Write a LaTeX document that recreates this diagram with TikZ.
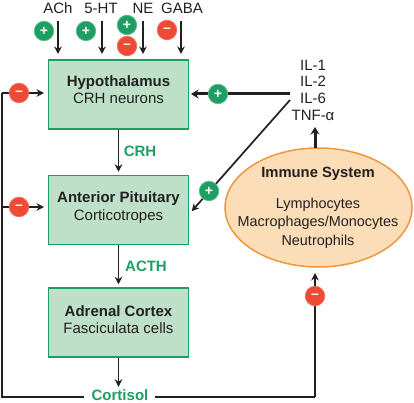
\documentclass[tikz,border=0pt]{standalone}
\usepackage{fontspec}
\setmainfont{Liberation Sans}
\usetikzlibrary{arrows.meta, positioning, shapes.geometric}

\definecolor{boxgreen}{HTML}{BEE0C9}
\definecolor{linegreen}{HTML}{1E9E63}
\definecolor{ovalfill}{HTML}{FBDDB8}
\definecolor{ovalline}{HTML}{F0963C}
\definecolor{signred}{HTML}{EE4A36}
\definecolor{inkdark}{HTML}{231F20}

\begin{document}
\begin{tikzpicture}[
            x=1pt, y=-1pt,
            >=Stealth,
            every node/.style={text=inkdark, font=\fontsize{15}{17.5}\selectfont},
            organ/.style={rectangle, draw=linegreen, fill=boxgreen, line width=1.5pt, minimum width=140pt, minimum height=69pt, align=center, text depth=0pt},
            link/.style={draw=inkdark, line width=1.7pt, shorten >=1pt, ->, >={Stealth[length=7.5pt,width=7.5pt]}},
            heavy/.style={draw=inkdark, line width=3pt, ->, >={Stealth[length=7.5pt,width=9pt]}},
            plain/.style={draw=inkdark, line width=1.7pt},
            plus/.style={circle, fill=linegreen, draw=linegreen!70!white, line width=0.8pt, minimum size=19.5pt, inner sep=0pt, text=white, font=\bfseries\fontsize{14}{14}\selectfont},
            minus/.style={circle, fill=signred, draw=signred!80!white, line width=0.8pt, minimum size=19.5pt, inner sep=0pt, text=white, font=\bfseries\fontsize{14}{14}\selectfont},
            hormone/.style={text=linegreen, inner sep=2pt, font=\bfseries\fontsize{15}{17.5}\selectfont}]

        \useasboundingbox (0,0) rectangle (414,403);

        % boxes
        \node[organ] (Hyp) at (118.5,94.5) {\textbf{Hypothalamus}\\CRH neurons\\[-7.5pt]};
        \node[organ] (Ant) at (118.5,210) {\textbf{Anterior Pituitary}\\Corticotropes\\[-9.5pt]};
        \node[organ] (Adr) at (118.5,322.5) {\textbf{Adrenal Cortex}\\Fasciculata cells\\[-11.5pt]};
        \node[ellipse, draw=ovalline, fill=ovalfill, line width=1.5pt, minimum width=187pt, minimum height=119pt, inner sep=0pt] (Imm) at (318.5,207.5) {};
        \node[align=center, font=\fontsize{14.4}{18.5}\selectfont] (ImmText) at (318,207.5) {{\fontsize{14.8}{18.5}\selectfont\textbf{Immune System}}\\[12.5pt]Lymphocytes\\Macrophages/Monocytes\\Neutrophils};

        % inputs on top
        \node (ACh) at (58,8) {ACh};
        \node (HT) at (101,8) {5-HT};
        \node (NE) at (143,8) {NE};
        \node (GABA) at (182,8) {GABA};
        \coordinate (AChS) at (58,21);
        \coordinate (HTS) at (102,21);
        \coordinate (NES) at (143,21);
        \coordinate (GABAS) at (181,21);
        \coordinate (AChE) at (58,55);
        \coordinate (HTE) at (102,55);
        \coordinate (NEE) at (143,55);
        \coordinate (GABAE) at (181,55);
        \draw[link] (AChS) -- (AChE);
        \draw[link] (HTS) -- (HTE);
        \draw[link] (NES) -- (NEE);
        \draw[link] (GABAS) -- (GABAE);

        % axis
        \node[hormone] (CRH) at (140,151) {CRH};
        \node[hormone] (ACTH) at (146,266) {ACTH};
        \node[hormone] (Cort) at (120,395.5) {Cortisol};
        \draw[link, shorten >=3pt] (Hyp) -- (Ant);
        \draw[link, shorten >=3pt] (Ant) -- (Adr);
        \draw[link] (Adr) -- (Adr |- Cort.north);

        % cytokines
        \node[align=center, font=\fontsize{15}{16.7}\selectfont] (IL) at (313,90) {IL-1\\IL-2\\IL-6\\TNF-α};
        \coordinate (ILa) at (290,94);
        \coordinate (ILb) at (290,100);
        \coordinate (AntE) at (191,212);
        \coordinate (ImmTop) at (315,148);
        \coordinate (ILe) at (315,127);
        \coordinate (HypE) at (191,94);
        \draw[heavy] (ILa) -- (HypE);
        \draw[link] (ILb) -- (AntE);
        \draw[heavy] (ImmTop) -- (ILe);

        % feedback lines
        \coordinate (FbA) at (2,93);
        \coordinate (FbB) at (2,207);
        \coordinate (FbC) at (2,397);
        \coordinate (HypW) at (45,93);
        \coordinate (AntW) at (45,207);
        \coordinate (ImmB) at (315,272);
        \coordinate (CornR) at (315,397);
        \coordinate (CortL) at (84,397);
        \coordinate (CortR) at (155,397);
        \draw[plain] (CortL) -- (FbC) -- (FbA);
        \draw[link] (FbA) -- (HypW);
        \draw[link] (FbB) -- (AntW);
        \draw[plain] (CortR) -- (CornR);
        \draw[link] (CornR) -- (ImmB);

        % signs
        \node[plus] (pA) at (44,31) {+};
        \node[plus] (pB) at (86,31) {+};
        \node[plus] (pC) at (127,25) {+};
        \node[minus] (mC) at (127,46) {–};
        \node[minus] (mD) at (167,30) {–};
        \node[minus] (mHyp) at (19,93) {–};
        \node[minus] (mAnt) at (19,207) {–};
        \node[plus] (pHyp) at (218,94) {+};
        \node[plus] (pAnt) at (209,191) {+};
        \node[minus] (mImm) at (315,296) {–};

    \end{tikzpicture}
\end{document}
